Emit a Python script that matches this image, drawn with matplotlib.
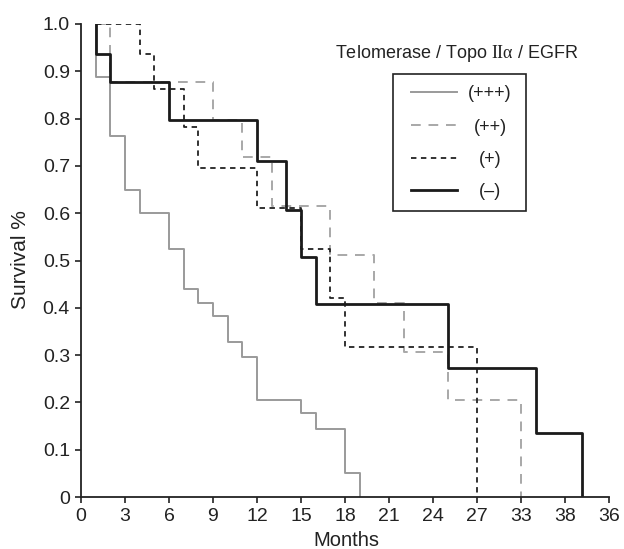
import matplotlib
matplotlib.use("Agg")
import matplotlib.pyplot as plt
from matplotlib.patches import Rectangle
from matplotlib.lines import Line2D

plt.rcParams['font.family'] = ['Liberation Sans', 'DejaVu Sans']
plt.rcParams['mathtext.fontset'] = 'custom'
plt.rcParams['mathtext.rm'] = 'Liberation Serif'
plt.rcParams['mathtext.it'] = 'Liberation Serif'

# Kaplan-Meier step data: times where the curve drops, survival after each time
t_ppp = [1, 2, 3, 4, 6, 7, 8, 9, 10, 11, 12, 15, 16, 18, 19]
s_ppp = [0.889, 0.763, 0.648, 0.600, 0.524, 0.440, 0.411, 0.383, 0.328, 0.296, 0.206, 0.178, 0.144, 0.050, 0.0]

t_pp = [1, 2, 9, 11, 13, 17, 20, 22, 25, 30]
s_pp = [1.0, 0.877, 0.797, 0.718, 0.616, 0.512, 0.411, 0.307, 0.206, 0.0]

t_p = [1, 4, 5, 7, 8, 12, 15, 17, 18, 27]
s_p = [1.0, 0.937, 0.863, 0.783, 0.696, 0.610, 0.524, 0.420, 0.318, 0.0]

t_m = [1, 2, 6, 12, 14, 15, 16, 25, 31, 34.15]
s_m = [0.936, 0.877, 0.797, 0.711, 0.607, 0.508, 0.408, 0.273, 0.135, 0.0]

x_ticks = [0, 3, 6, 9, 12, 15, 18, 21, 24, 27, 30, 33, 36]
x_labels = ['0', '3', '6', '9', '12', '15', '18', '21', '24', '27', '33', '38', '36']
y_ticks = [0, 0.1, 0.2, 0.3, 0.4, 0.5, 0.6, 0.7, 0.8, 0.9, 1.0]
y_labels = ['0', '0.1', '0.2', '0.3', '0.4', '0.5', '0.6', '0.7', '0.8', '0.9', '1.0']
legend_labels = ['(+++)', '(++)', '(+)', '(\u2013)']
legend_title = r'Telomerase / Topo $\mathrm{II}\alpha$ / EGFR'


def km(t, s):
    xs = [t[0]]
    ys = [1.0]
    prev = 1.0
    for ti, si in zip(t, s):
        xs += [ti, ti]
        ys += [prev, si]
        prev = si
    return xs, ys


W, H = 624, 549
fig = plt.figure(figsize=(W / 100, H / 100), dpi=100)
ax = fig.add_axes([81 / W, 1 - 497 / H, 528 / W, 473 / H])

styles = [
    dict(color='#9a9a9a', lw=1.4, ls='-'),
    dict(color='#a8a8a8', lw=1.4, ls=(0, (5, 4))),
    dict(color='#222222', lw=1.3, ls=(0, (3, 2.5))),
    dict(color='#1a1a1a', lw=2.0, ls='-'),
]
for (t, s), st in zip([(t_ppp, s_ppp), (t_pp, s_pp), (t_p, s_p), (t_m, s_m)], styles):
    xs, ys = km(t, s)
    ax.plot(xs, ys, **st)

ax.set_xlim(0, 36)
ax.set_ylim(0, 1.0)
ax.set_xticks(x_ticks)
ax.set_xticklabels(x_labels)
ax.set_yticks(y_ticks)
ax.set_yticklabels(y_labels)
ax.tick_params(direction='out', length=4, width=1.2, labelsize=14, colors='#222222', pad=4)
for sp in ['top', 'right']:
    ax.spines[sp].set_visible(False)
for sp in ['left', 'bottom']:
    ax.spines[sp].set_linewidth(1.3)
    ax.spines[sp].set_color('#222222')

fig.text(346 / W, 1 - 540 / H, 'Months', fontsize=14.5, ha='center', va='center', color='#222222')
fig.text(21 / W, 1 - 260 / H, 'Survival %', fontsize=15, ha='center', va='center',
         rotation=90, color='#222222')

fig.text(457 / W, 1 - 53 / H, legend_title, fontsize=13,
         ha='center', va='center', color='#222222')

# legend box drawn manually
fig.patches.append(Rectangle((393 / W, 1 - 211 / H), 133 / W, 137 / H, transform=fig.transFigure,
                             fill=False, edgecolor='#222222', lw=1.2))
rows = [92, 125, 158, 190]
for yy, st, lab in zip(rows, styles, legend_labels):
    fig.add_artist(Line2D([411 / W, 457 / W], [1 - yy / H, 1 - yy / H], transform=fig.transFigure, **st))
    fig.text(490 / W, 1 - (yy + 2) / H, lab, fontsize=13, ha='center', va='center', color='#222222')

fig.savefig('out.png', dpi=100)
